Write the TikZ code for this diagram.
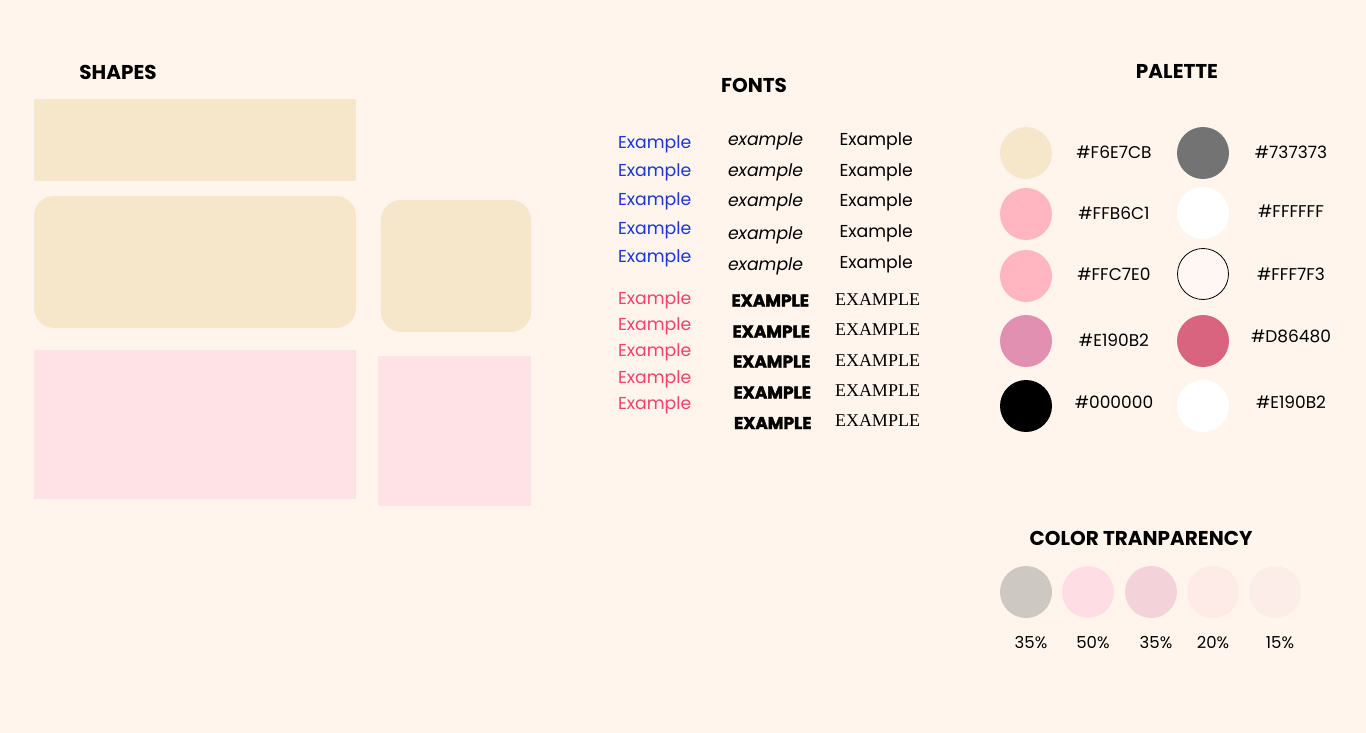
\documentclass[tikz,border=0pt]{standalone}
\usepackage{fontspec}
\setmainfont{Poppins}
\newfontfamily\capserif{Liberation Serif}
\newfontfamily\heavyfont{Poppins}[BoldFeatures={FakeBold=2.2}]
\definecolor{bg}{HTML}{FFF5EC}
\definecolor{beige}{HTML}{F6E7CB}
\definecolor{pinkbox}{HTML}{FFE2E6}
\definecolor{blueT}{HTML}{1B36D4}
\definecolor{redT}{HTML}{F2416B}
\definecolor{cA}{HTML}{F6E7CB}
\definecolor{cB}{HTML}{FFB6C1}
\definecolor{cC}{HTML}{FFB6C1}
\definecolor{cD}{HTML}{E190B2}
\definecolor{cE}{HTML}{000000}
\definecolor{cF}{HTML}{737373}
\definecolor{cG}{HTML}{FFFFFF}
\definecolor{cH}{HTML}{FFF7F3}
\definecolor{cI}{HTML}{D86480}
\definecolor{cJ}{HTML}{FFFFFF}
\definecolor{tA}{HTML}{CEC8C2}
\definecolor{tB}{HTML}{FFDDE5}
\definecolor{tC}{HTML}{F3D2D9}
\definecolor{tD}{HTML}{FEEAE6}
\definecolor{tE}{HTML}{FDEDE9}
\tikzset{
  heading/.style={anchor=base, font=\fontsize{20}{22}\selectfont\bfseries},
  sampleblue/.style={anchor=base west, text=blueT, font=\fontsize{17.3}{20}\selectfont},
  samplered/.style={anchor=base west, text=redT, font=\fontsize{17.3}{20}\selectfont},
  sampleital/.style={anchor=base west, font=\fontsize{17.3}{20}\selectfont\itshape},
  sampleplain/.style={anchor=base west, font=\fontsize{17.3}{20}\selectfont},
  sampleheavy/.style={anchor=base west, font=\fontsize{17}{20}\selectfont\heavyfont\bfseries},
  sampleserif/.style={anchor=base west, font=\fontsize{18}{20}\selectfont\capserif},
  hexlabel/.style={anchor=base, font=\fontsize{17}{20}\selectfont},
  swatch/.style={circle, minimum size=52, draw=none},
  box/.style={anchor=north west, draw=none}
}
\begin{document}
\begin{tikzpicture}[x=1pt,y=-1pt, every node/.style={inner sep=0pt, outer sep=0pt}]
\useasboundingbox (0,0) rectangle (1366,733);
\fill[bg] (0,0) rectangle (1366,733);

% SHAPES
\node[heading] (hshapes) at (118,79.5) {SHAPES};
\node[box, fill=beige, minimum width=322, minimum height=82] (s1) at (34,99) {};
\node[box, fill=beige, minimum width=322, minimum height=132, rounded corners=20] (s2) at (34,196) {};
\node[box, fill=beige, minimum width=150, minimum height=132, rounded corners=20] (s3) at (381,200) {};
\node[box, fill=pinkbox, minimum width=322, minimum height=149] (s4) at (34,350) {};
\node[box, fill=pinkbox, minimum width=153, minimum height=150] (s5) at (378,356) {};

% FONTS
\node[heading] (hfonts) at (754,93) {FONTS};
\node[sampleblue] (b1) at (618,149) {Example};
\node[sampleblue] (b2) at (618,176.5) {Example};
\node[sampleblue] (b3) at (618,205) {Example};
\node[sampleblue] (b4) at (618,234) {Example};
\node[sampleblue] (b5) at (618,262.5) {Example};
\node[samplered] (r1) at (618,304) {Example};
\node[samplered] (r2) at (618,330.5) {Example};
\node[samplered] (r3) at (618,356.5) {Example};
\node[samplered] (r4) at (618,383) {Example};
\node[samplered] (r5) at (618,409.5) {Example};
\node[sampleital] (i1) at (728,145.5) {example};
\node[sampleital] (i2) at (728,176) {example};
\node[sampleital] (i3) at (728,207) {example};
\node[sampleital] (i4) at (728,239) {example};
\node[sampleital] (i5) at (728,270.5) {example};
\node[sampleheavy] (k1) at (731.5,306.5) {EXAMPLE};
\node[sampleheavy] (k2) at (732.5,337.5) {EXAMPLE};
\node[sampleheavy] (k3) at (733,367.5) {EXAMPLE};
\node[sampleheavy] (k4) at (733.5,398.5) {EXAMPLE};
\node[sampleheavy] (k5) at (734,429) {EXAMPLE};
\node[sampleplain] (p1) at (839.5,145.5) {Example};
\node[sampleplain] (p2) at (839.5,176.5) {Example};
\node[sampleplain] (p3) at (839.5,207) {Example};
\node[sampleplain] (p4) at (839.5,237) {Example};
\node[sampleplain] (p5) at (839.5,268) {Example};
\node[sampleserif] (q1) at (835,305.5) {EXAMPLE};
\node[sampleserif] (q2) at (835,335.5) {EXAMPLE};
\node[sampleserif] (q3) at (835,366) {EXAMPLE};
\node[sampleserif] (q4) at (835,396.5) {EXAMPLE};
\node[sampleserif] (q5) at (835,426.5) {EXAMPLE};

% PALETTE
\node[heading] (hpal) at (1177,79) {PALETTE};
\node[swatch, fill=cA] (ca) at (1026,153) {};
\node[swatch, fill=cB] (cb) at (1026,214) {};
\node[swatch, fill=cC] (cc) at (1026,276) {};
\node[swatch, fill=cD] (cd) at (1026,341) {};
\node[swatch, fill=cE] (ce) at (1026,406) {};
\node[swatch, fill=cF] (cf) at (1203,153) {};
\node[swatch, fill=cG] (cg) at (1203,213) {};
\node[swatch, fill=cH, draw=black, line width=0.8pt, minimum size=51] (ch) at (1203,274) {};
\node[swatch, fill=cI] (ci) at (1203,341) {};
\node[swatch, fill=cJ] (cj) at (1203,406) {};
\node[hexlabel] (la) at (1114,159) {\#F6E7CB};
\node[hexlabel] (lb) at (1114,219.3) {\#FFB6C1};
\node[hexlabel] (lc) at (1114,280) {\#FFC7E0};
\node[hexlabel] (ld) at (1114,346) {\#E190B2};
\node[hexlabel] (le) at (1114,408) {\#000000};
\node[hexlabel] (lf) at (1291,158.5) {\#737373};
\node[hexlabel] (lg) at (1291,217.5) {\#FFFFFF};
\node[hexlabel] (lh) at (1291,280) {\#FFF7F3};
\node[hexlabel] (li) at (1291,342.5) {\#D86480};
\node[hexlabel] (lj) at (1291,408.5) {\#E190B2};

% TRANSPARENCY
\node[heading] (htr) at (1141,545.5) {COLOR TRANPARENCY};
\node[swatch, fill=tA] (ta) at (1026,592) {};
\node[swatch, fill=tB] (tb) at (1088,592) {};
\node[swatch, fill=tC] (tc) at (1151,592) {};
\node[swatch, fill=tD] (td) at (1213,592) {};
\node[swatch, fill=tE] (te) at (1275,592) {};
\node[hexlabel, font=\fontsize{16.5}{20}\selectfont] (pa) at (1031,648) {35\%};
\node[hexlabel, font=\fontsize{16.5}{20}\selectfont] (pb) at (1093,648) {50\%};
\node[hexlabel, font=\fontsize{16.5}{20}\selectfont] (pc) at (1156,648) {35\%};
\node[hexlabel, font=\fontsize{16.5}{20}\selectfont] (pd) at (1213,648) {20\%};
\node[hexlabel, font=\fontsize{16.5}{20}\selectfont] (pe) at (1280,648) {15\%};
\end{tikzpicture}
\end{document}
